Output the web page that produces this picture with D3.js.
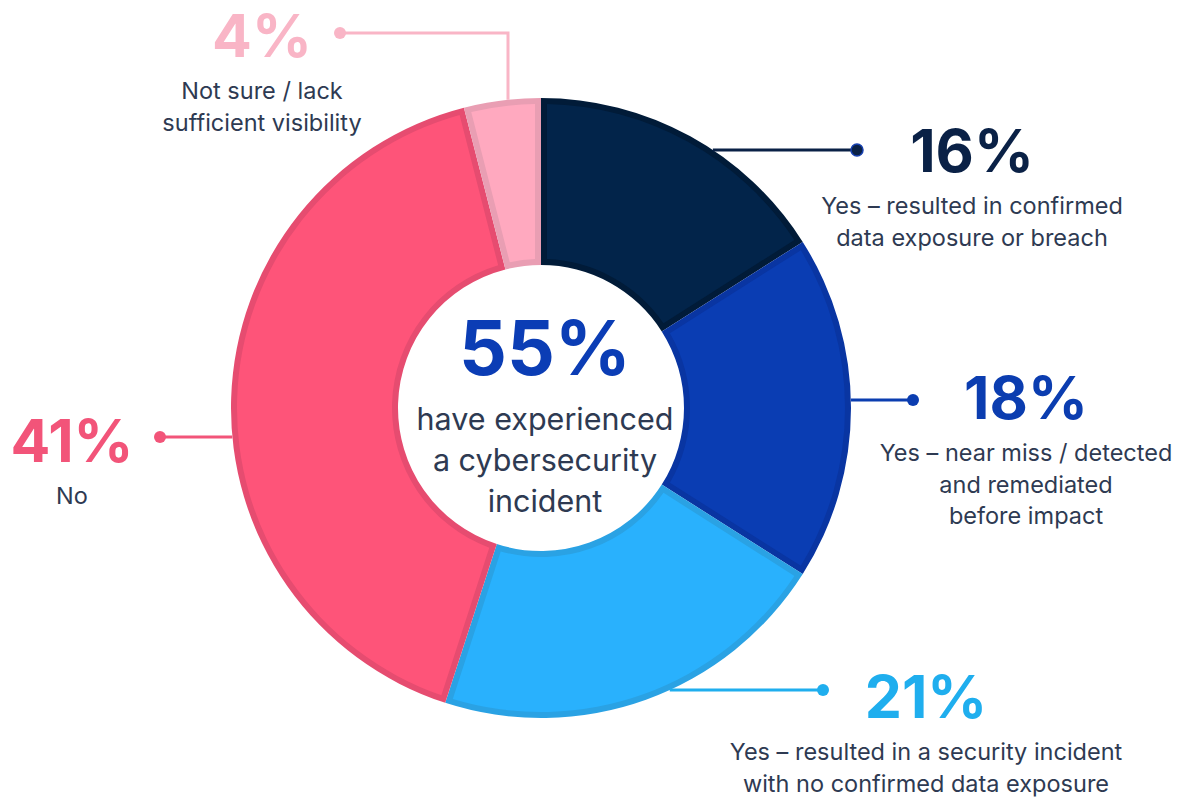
<!DOCTYPE html>
<html>
<head>
<meta charset="utf-8">
<script src="https://cdn.jsdelivr.net/npm/d3@7"></script>
<style>
  body { margin: 0; background: #fff; }
  svg { display: block; font-family: Inter, "Noto Sans", sans-serif; }
</style>
</head>
<body>
<div id="chart"></div>
<script>
// slices go clockwise from 12 o'clock
const categories = [
    "Yes – resulted in confirmed data exposure or breach",
    "Yes – near miss / detected and remediated before impact",
    "Yes – resulted in a security incident with no confirmed data exposure",
    "No",
    "Not sure / lack sufficient visibility"
];
const values = [16, 18, 21, 41, 4];
const labelLines = [
    ["Yes – resulted in confirmed", "data exposure or breach"],
    ["Yes – near miss / detected", "and remediated", "before impact"],
    ["Yes – resulted in a security incident", "with no confirmed data exposure"],
    ["No"],
    ["Not sure / lack", "sufficient visibility"]
];
const centerValue = "55%";
const centerLines = ["have experienced", "a cybersecurity", "incident"];

const fills   = ["#02244a", "#0a3db3", "#29b1fd", "#fe5479", "#ffa9bf"];
const borders = ["#011b38", "#0935a2", "#2aa2e4", "#e64c70", "#e99eb3"];
const textCols = ["#0a2146", "#0b3db0", "#1faeee", "#f25479", "#f9b5c6"];

const W = 1178, H = 797;
const cx = 541, cy = 408, rOuter = 310, rInner = 143, border = 6;

const svg = d3.select("#chart").append("svg")
    .attr("width", W)
    .attr("height", H);

const g = svg.append("g").attr("transform", `translate(${cx},${cy})`);

const pie = d3.pie().sort(null).value(d => d);
const arcs = pie(values);

const outerArc = d3.arc().innerRadius(rInner).outerRadius(rOuter);
const innerArc = d3.arc()
    .innerRadius(rInner + border)
    .outerRadius(rOuter - border)
    .padRadius(200)
    .padAngle(2 * border / 200);

g.selectAll(".slice-border")
    .data(arcs)
    .join("path")
    .attr("class", "slice-border")
    .attr("d", outerArc)
    .attr("fill", (d, i) => borders[i]);

g.selectAll(".slice")
    .data(arcs)
    .join("path")
    .attr("class", "slice")
    .attr("d", innerArc)
    .attr("fill", (d, i) => fills[i]);

// label layout: leader line y (relative to centre), dot x, text centre and baseline
const layout = [
    { side: 1,  ly: -258, dotX: 857, tx: 972,  ty: 172 },
    { side: 1,  ly: -8,   dotX: 913, tx: 1026, ty: 419 },
    { side: 1,  ly: 282,  dotX: 823, tx: 926,  ty: 718 },
    { side: -1, ly: 29,   dotX: 160, tx: 72,   ty: 462 },
    { elbow: true, ex: 508, ey: 33, dotX: 340, tx: 262, ty: 57 }
];

const lines = svg.append("g");
layout.forEach((L, i) => {
    let pts;
    if (L.elbow) {
        const dx = L.ex - cx;
        const yTop = cy - Math.sqrt(rOuter * rOuter - dx * dx);
        pts = [[L.ex, yTop], [L.ex, L.ey], [L.dotX, L.ey]];
    } else {
        const y = cy + L.ly;
        const x = cx + L.side * Math.sqrt(rOuter * rOuter - L.ly * L.ly);
        pts = [[x, y], [L.dotX, y]];
    }
    lines.append("path")
        .attr("d", d3.line()(pts))
        .attr("fill", "none")
        .attr("stroke", i === 0 ? "#0a2146" : textCols[i])
        .attr("stroke-width", 3);
    lines.append("circle")
        .attr("cx", pts[pts.length - 1][0])
        .attr("cy", pts[pts.length - 1][1])
        .attr("r", 6)
        .attr("fill", i === 0 ? "#0a2146" : textCols[i])
        .attr("stroke", i === 0 ? "#1740b0" : "none")
        .attr("stroke-width", 1.5);

    const t = svg.append("g").attr("text-anchor", "middle");
    t.append("text")
        .attr("x", L.tx)
        .attr("y", L.ty)
        .attr("fill", textCols[i])
        .style("font-size", "59px")
        .style("font-weight", 700)
        .text(values[i] + "%");
    labelLines[i].forEach((s, j) => {
        t.append("text")
            .attr("x", L.tx)
            .attr("y", L.ty + 42 + j * 31.5)
            .attr("fill", "#2e3a52")
            .style("font-size", "23.5px")
            .text(s);
    });
});

// centre text
const c = svg.append("g").attr("text-anchor", "middle");
c.append("text")
    .attr("x", cx + 4)
    .attr("y", 375)
    .attr("fill", "#0b3db5")
    .style("font-size", "75px")
    .style("font-weight", 700)
    .text(centerValue);
centerLines.forEach((s, j) => {
    c.append("text")
        .attr("x", cx + 4)
        .attr("y", 430 + j * 41)
        .attr("fill", "#2e3a52")
        .style("font-size", "30.5px")
        .text(s);
});
</script>
</body>
</html>
